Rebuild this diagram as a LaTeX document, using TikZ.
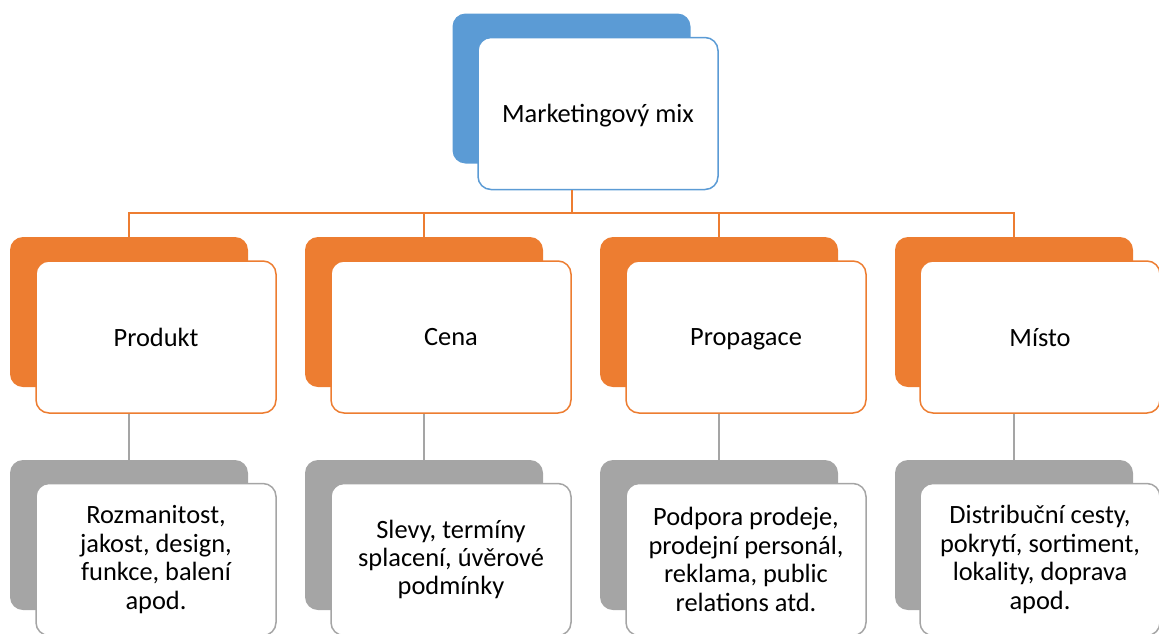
\documentclass[tikz,border=0pt]{standalone}
\usepackage{fontspec}
\setmainfont{Carlito}
\definecolor{mixblue}{HTML}{5B9BD5}
\definecolor{mixorange}{HTML}{ED7D31}
\definecolor{mixgray}{HTML}{A5A5A5}

\tikzset{
  backbox/.style={fill=#1, rounded corners=13pt, minimum width=238pt,
    minimum height=150pt, inner sep=0pt},
  frontbox/.style={draw=#1, fill=white, line width=1.5pt, rounded corners=13pt,
    minimum width=240pt, minimum height=152pt, inner sep=0pt, align=center,
    font=\fontsize{26.4}{28.4}\selectfont},
  oneline/.style={text depth=0pt},
  link/.style={draw=#1, line width=1.5pt}
}

\begin{document}
\begin{tikzpicture}[x=1pt, y=-1pt]
  \useasboundingbox (0, 0) rectangle (1159, 633);

  % horni uroven
  \node[backbox=mixblue] (mixB) at (571.5, 88.5) {};
  \node[frontbox=mixblue, oneline] (mix) at (598, 113.5) {Marketingový mix};

  % prostredni uroven
  \node[backbox=mixorange] (produktB)   at (129, 312)  {};
  \node[backbox=mixorange] (cenaB)      at (424, 312)  {};
  \node[backbox=mixorange] (propagaceB) at (719, 312)  {};
  \node[backbox=mixorange] (mistoB)     at (1014, 312) {};
  \node[frontbox=mixorange, oneline] (produkt)   at (156, 337)  {Produkt};
  \node[frontbox=mixorange, oneline] (cena)      at (451, 337)  {Cena};
  \node[frontbox=mixorange, oneline] (propagace) at (746, 337)  {Propagace};
  \node[frontbox=mixorange, oneline] (misto)     at (1040, 337) {Místo};

  % dolni uroven
  \node[backbox=mixgray] (produktDB)   at (129, 535)  {};
  \node[backbox=mixgray] (cenaDB)      at (424, 535)  {};
  \node[backbox=mixgray] (propagaceDB) at (719, 535)  {};
  \node[backbox=mixgray] (mistoDB)     at (1014, 535) {};
  \node[frontbox=mixgray] (produktD)   at (156, 559.5)
    {Rozmanitost,\\ jakost, design,\\ funkce, balení\\ apod.};
  \node[frontbox=mixgray] (cenaD)      at (451, 559.5)
    {Slevy, termíny\\ splacení, úvěrové\\ podmínky};
  \node[frontbox=mixgray] (propagaceD) at (746, 559.5)
    {Podpora prodeje,\\ prodejní personál,\\ reklama, public\\ relations atd.};
  \node[frontbox=mixgray] (mistoD)     at (1040, 559.5)
    {Distribuční cesty,\\ pokrytí, sortiment,\\ lokality, doprava\\ apod.};

  % spojnice
  \coordinate (bus) at (572, 213);
  \draw[link=mixorange] (mix.south -| bus) -- (bus);
  \draw[link=mixorange] (produktB.north) |- (bus) -| (mistoB.north);
  \draw[link=mixorange] (cenaB.north) -- (cenaB.north |- bus);
  \draw[link=mixorange] (propagaceB.north) -- (propagaceB.north |- bus);

  \draw[link=mixgray] (produkt.south -| produktB) -- (produktDB.north);
  \draw[link=mixgray] (cena.south -| cenaB) -- (cenaDB.north);
  \draw[link=mixgray] (propagace.south -| propagaceB) -- (propagaceDB.north);
  \draw[link=mixgray] (misto.south -| mistoB) -- (mistoDB.north);
\end{tikzpicture}
\end{document}
